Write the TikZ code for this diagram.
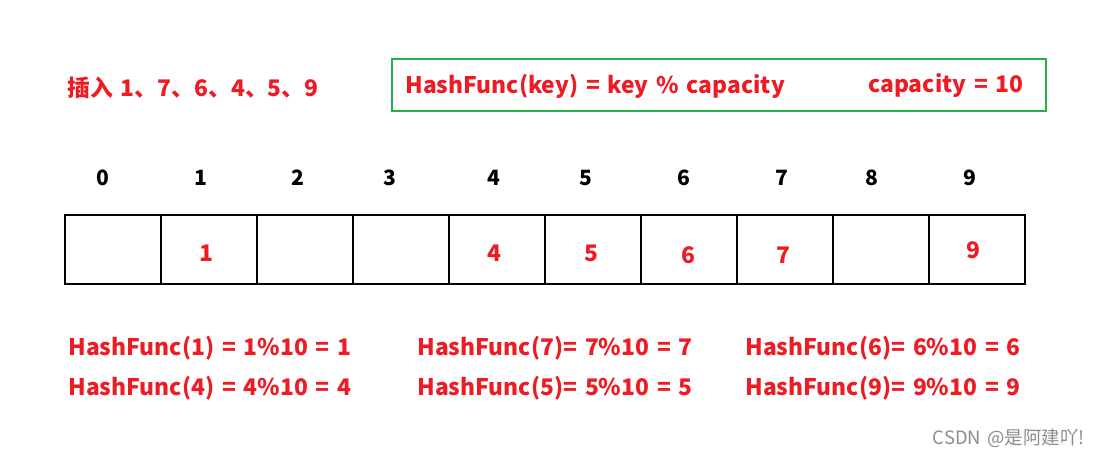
\documentclass[tikz,border=0pt]{standalone}
\usepackage{fontspec}
\setmainfont{Noto Sans CJK SC}[WordSpace=1.5]
\definecolor{hashred}{RGB}{237,28,36}
\definecolor{hashgreen}{RGB}{34,177,76}
\tikzset{
  redtext/.style={text=hashred, font=\bfseries\fontsize{13}{15}\selectfont, inner sep=0pt},
  idxtext/.style={text=black, font=\bfseries\fontsize{12}{14}\selectfont, inner sep=0pt},
  cellbox/.style={draw, line width=1.6pt, minimum width=1.92cm, minimum height=1.38cm, inner sep=0pt}
}
\begin{document}
\begin{tikzpicture}[x=0.02cm, y=-0.02cm]
  \useasboundingbox (0,0) rectangle (1096,457);
  % Insert order and hash function
  \node (order) [redtext, anchor=west] at (67,88) {插入 1、7、6、4、5、9};
  \node (formulabox) [draw=hashgreen, line width=1.6pt, minimum width=13.08cm, minimum height=1.04cm] at (719,85) {};
  \node (formula) [redtext, anchor=west] at (405,86) {HashFunc(key) = key \% capacity};
  \node (capacity) [redtext, anchor=west] at (868,86) {capacity = 10};
  % Table with indices
  \foreach \i in {0,...,9}
    \node (cell\i) [cellbox] at ({113+96*\i},249.5) {};
  \foreach \i/\x in {0/103,1/201,2/298,3/390,4/494,5/586,6/684,7/782,8/872,9/970}
    \node (idx\i) [idxtext] at (\x,178) {\i};
  % Stored keys
  \foreach \i/\x/\y in {1/206/253,4/494/253,5/591/253,6/688/255,7/783/255,9/973/250}
    \node (val\i) [redtext] at (\x,\y) {\i};
  % Hash results
  \node (hash1) [redtext, anchor=west] at (68,348) {HashFunc(1) = 1\%10 = 1};
  \node (hash4) [redtext, anchor=west] at (68,388) {HashFunc(4) = 4\%10 = 4};
  \node (hash7) [redtext, anchor=west] at (417,348) {HashFunc(7)= 7\%10 = 7};
  \node (hash5) [redtext, anchor=west] at (417,388) {HashFunc(5)= 5\%10 = 5};
  \node (hash6) [redtext, anchor=west] at (745,348) {HashFunc(6)= 6\%10 = 6};
  \node (hash9) [redtext, anchor=west] at (745,388) {HashFunc(9)= 9\%10 = 9};
  \node (mark) [text=black!45, font=\fontsize{10.5}{12}\selectfont, inner sep=0pt, anchor=east] at (1085,438) {CSDN @是阿建吖!};
\end{tikzpicture}
\end{document}
